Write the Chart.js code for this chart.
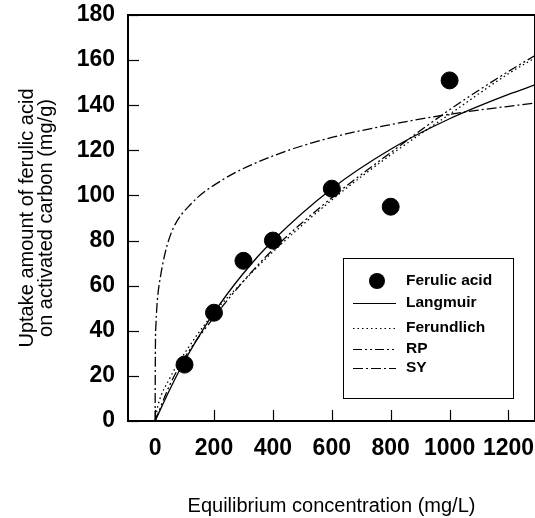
<!DOCTYPE html>
<html>
<head>
<meta charset="utf-8">
<script src="https://cdn.jsdelivr.net/npm/chart.js@4/dist/chart.umd.min.js"></script>
<style>
  html, body { margin: 0; padding: 0; background: #fff; }
  #wrap { width: 535px; height: 518px; }
</style>
</head>
<body>
<div id="wrap"><canvas id="chart"></canvas></div>
<script>
// Measured uptake of ferulic acid
const expC = [100, 200, 300, 400, 600, 800, 1000];
const expQ = [25, 48, 71, 80, 103, 95, 151];

// Isotherm model curves (equilibrium conc. vs uptake)
const langC = [0, 50, 100, 200, 300, 400, 600, 800, 1000, 1200, 1290];
const langQ = [0, 14, 26.6, 48, 65.5, 80, 103, 120.5, 134, 144.8, 149];

const freuC = [0, 10, 50, 100, 200, 300, 400, 600, 800, 1000, 1200, 1290];
const freuQ = [0, 7, 19, 30, 48, 62, 75, 98, 118, 136, 154, 161];

const rpC = [0, 50, 100, 200, 300, 400, 600, 800, 1000, 1200, 1290];
const rpQ = [0, 16, 28, 46, 62, 76, 99, 119, 138, 155, 162];

const syC = [0, 1, 3, 8, 17, 35, 60, 120, 230, 400, 600, 800, 1000, 1290];
const syQ = [0, 32, 43, 54, 63, 75, 85, 96, 107, 117.5, 125.7, 131.4, 136, 141];

const xTicks = [0, 200, 400, 600, 800, 1000, 1200];
const yTicks = [0, 20, 40, 60, 80, 100, 120, 140, 160, 180];

const toPoints = (xs, ys) => xs.map((x, i) => ({ x: x, y: ys[i] }));

const lineSet = (label, xs, ys, dash) => ({
    type: 'line',
    label: label,
    data: toPoints(xs, ys),
    borderColor: '#000',
    borderWidth: 1.3,
    borderDash: dash,
    pointRadius: 0,
    fill: false,
    cubicInterpolationMode: 'monotone'
});

// Frame, inward ticks and the boxed legend
const framePlugin = {
    id: 'frame',
    afterDraw(chart) {
        const ctx = chart.ctx;
        const a = chart.chartArea;
        const xs = chart.scales.x;
        const ys = chart.scales.y;
        ctx.save();
        ctx.strokeStyle = '#000';
        ctx.lineWidth = 2;
        ctx.strokeRect(a.left, a.top, a.right - a.left, a.bottom - a.top);

        ctx.lineWidth = 1.2;
        yTicks.forEach((v) => {
            const py = Math.round(ys.getPixelForValue(v)) + 0.5;
            ctx.beginPath();
            ctx.moveTo(a.left, py);
            ctx.lineTo(a.left + 11, py);
            ctx.stroke();
        });
        xTicks.forEach((v) => {
            const px = Math.round(xs.getPixelForValue(v)) + 0.5;
            ctx.beginPath();
            ctx.moveTo(px, a.bottom);
            ctx.lineTo(px, a.bottom - 11);
            ctx.stroke();
        });

        // legend box
        const bx = 343, by = 258, bw = 170, bh = 140;
        ctx.lineWidth = 1;
        ctx.strokeRect(bx + 0.5, by + 0.5, bw, bh);
        const rows = [281, 303, 328, 349, 368];
        ctx.font = 'bold 15.5px "Liberation Sans", Arial, sans-serif';
        ctx.textBaseline = 'middle';
        ctx.fillStyle = '#000';
        chart.data.datasets.forEach((ds, i) => {
            const ry = rows[i];
            if (ds.type === 'scatter') {
                ctx.beginPath();
                ctx.arc(377, ry, 8, 0, Math.PI * 2);
                ctx.fill();
            } else {
                ctx.setLineDash(ds.borderDash || []);
                ctx.lineWidth = 1;
                ctx.beginPath();
                ctx.moveTo(353, ry + 0.5);
                ctx.lineTo(396, ry + 0.5);
                ctx.stroke();
                ctx.setLineDash([]);
            }
            ctx.fillText(ds.label, 406, ry);
        });
        ctx.restore();
    }
};

const tickFont = { family: '"Liberation Sans", Arial, sans-serif', size: 23, weight: 'bold' };
const titleFont = { family: '"Liberation Sans", Arial, sans-serif', size: 20, lineHeight: 0.95 };

new Chart(document.getElementById('chart'), {
    data: {
        datasets: [
            {
                type: 'scatter',
                label: 'Ferulic acid',
                data: toPoints(expC, expQ),
                backgroundColor: '#000',
                borderColor: '#000',
                pointRadius: 8.5,
                pointHoverRadius: 8.5
            },
            lineSet('Langmuir', langC, langQ, []),
            lineSet('Ferundlich', freuC, freuQ, [1.5, 3]),
            lineSet('RP', rpC, rpQ, [9, 3, 2, 3, 2, 3]),
            lineSet('SY', syC, syQ, [10, 3, 2, 3])
        ]
    },
    options: {
        responsive: true,
        maintainAspectRatio: false,
        animation: false,
        events: [],
        layout: { padding: { top: 15, right: 0, left: 0, bottom: 0 }, autoPadding: false },
        plugins: {
            legend: { display: false },
            tooltip: { enabled: false }
        },
        scales: {
            x: {
                type: 'linear',
                min: -92,
                max: 1290,
                afterBuildTicks: (scale) => { scale.ticks = xTicks.map((v) => ({ value: v })); },
                afterFit: (scale) => { scale.height = 97; scale.paddingLeft = 0; scale.paddingRight = 0; },
                grid: { display: false, drawTicks: false },
                border: { display: false },
                ticks: { color: '#000', font: tickFont, padding: 14, maxRotation: 0, autoSkip: false,
                    callback: (v) => String(v) },
                title: {
                    display: true,
                    text: 'Equilibrium concentration (mg/L)',
                    color: '#000',
                    font: titleFont,
                    padding: { top: 20, bottom: 2 }
                }
            },
            y: {
                type: 'linear',
                min: 0,
                max: 180,
                afterBuildTicks: (scale) => { scale.ticks = yTicks.map((v) => ({ value: v })); },
                afterFit: (scale) => { scale.width = 128; scale.paddingTop = 0; scale.paddingBottom = 0; },
                grid: { display: false, drawTicks: false },
                border: { display: false },
                ticks: { color: '#000', font: tickFont, padding: 13, autoSkip: false, callback: (v) => String(v) },
                title: {
                    display: true,
                    text: ['Uptake amount of ferulic acid', 'on activated carbon (mg/g)'],
                    color: '#000',
                    font: titleFont,
                    padding: { top: 18, bottom: 0 }
                }
            }
        }
    },
    plugins: [framePlugin]
});
</script>
</body>
</html>
